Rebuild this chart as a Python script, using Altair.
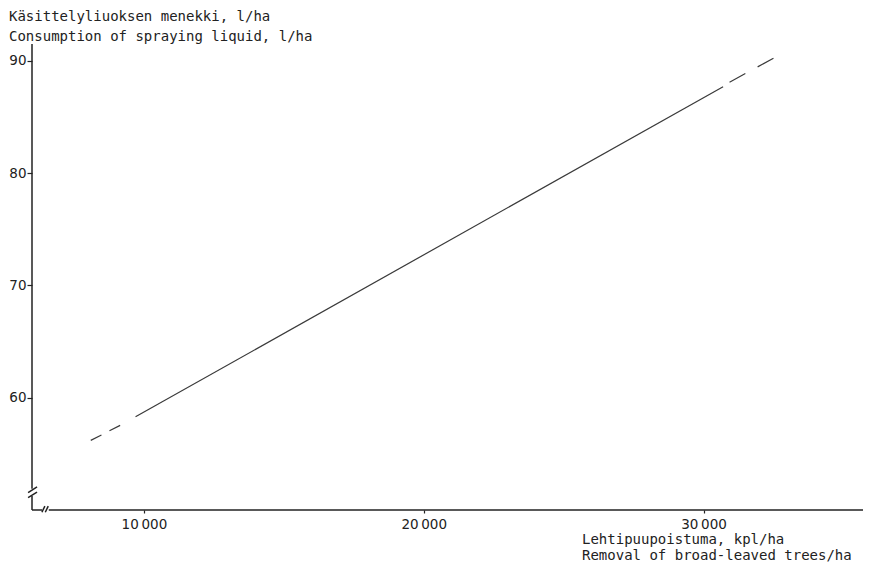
import altair as alt
import pandas as pd

# ---- data ----
line_x_solid = [9700, 30700]
line_y_solid = [58.3, 87.7]
line_x_dash_left = [8100, 9200]
line_y_dash_left = [56.2, 57.6]
line_x_dash_right = [30930, 32700]
line_y_dash_right = [88.1, 90.5]

x_ticks = [10000, 20000, 30000]
y_ticks = [60, 70, 80, 90]

y_title_lines = ["Käsittelyliuoksen menekki, l/ha", "Consumption of spraying liquid, l/ha"]
x_title_lines = ["Lehtipuupoistuma, kpl/ha", "Removal of broad-leaved trees/ha"]

X_DOMAIN = [6000, 35700]
Y_DOMAIN = [50, 91.5]
X_BREAK = 6480
Y_BREAK = 51.6

FONT = "DejaVu Sans"
TFONT = "DejaVu Sans Mono"
INK = "#222222"

W, H = 831, 466

xs = alt.Scale(domain=X_DOMAIN, nice=False, zero=False)
ys = alt.Scale(domain=Y_DOMAIN, nice=False, zero=False)

x_axis = alt.Axis(values=x_ticks, domain=False, grid=False, tickSize=3, tickColor=INK,
                  tickWidth=1.2, labelExpr="floor(datum.value/1000) + '\u2009000'",
                  labelFontSize=13.5, labelColor=INK, labelPadding=4, title=None,
                  labelFont=FONT)
y_axis = alt.Axis(values=y_ticks, domain=False, grid=False, tickSize=5, tickColor=INK,
                  tickWidth=1.2, labelFontSize=13.5, labelColor=INK, labelPadding=1,
                  title=None, labelFont=FONT)


def seg(xv, yv):
    return pd.DataFrame({"x": xv, "y": yv})


def enc(ch):
    return ch.encode(
        x=alt.X("x:Q", scale=xs, axis=x_axis),
        y=alt.Y("y:Q", scale=ys, axis=y_axis),
    )


solid = enc(alt.Chart(seg(line_x_solid, line_y_solid)).mark_line(
    color="#3a3a3a", strokeWidth=1.2))
dash_l = enc(alt.Chart(seg(line_x_dash_left, line_y_dash_left)).mark_line(
    color="#3a3a3a", strokeWidth=1.2, strokeDash=[12, 9]))
dash_r = enc(alt.Chart(seg(line_x_dash_right, line_y_dash_right)).mark_line(
    color="#3a3a3a", strokeWidth=1.2, strokeDash=[18, 14]))

# axis lines with break symbols
x0, x1 = X_DOMAIN
y0, y1 = Y_DOMAIN
axis_df = pd.DataFrame({
    "x":  [x0, x0, x0, X_BREAK + 120, X_BREAK - 125, X_BREAK - 5, x0 - 140, x0 - 140],
    "x2": [x0, x0, X_BREAK - 120, x1, X_BREAK - 20, X_BREAK + 100, x0 + 180, x0 + 180],
    "y":  [Y_BREAK + 0.3, y0, y0, y0, y0 - 0.2, y0 - 0.2, Y_BREAK - 0.05, Y_BREAK - 0.5],
    "y2": [y1, Y_BREAK - 0.35, y0, y0, y0 + 0.35, y0 + 0.35, Y_BREAK + 0.45, Y_BREAK],
})
axes = alt.Chart(axis_df).mark_rule(color=INK, strokeWidth=1.5).encode(
    x=alt.X("x:Q", scale=xs, axis=x_axis),
    x2="x2:Q",
    y=alt.Y("y:Q", scale=ys, axis=y_axis),
    y2="y2:Q",
)

one = pd.DataFrame({"k": [0]})
y_title = alt.Chart(one).mark_text(
    align="left", baseline="alphabetic", fontSize=14, lineHeight=20,
    font=TFONT, color=INK).encode(
    x=alt.value(-23), y=alt.value(-23), text=alt.value(y_title_lines))
x_title = alt.Chart(one).mark_text(
    align="left", baseline="alphabetic", fontSize=14, lineHeight=16,
    font=TFONT, color=INK).encode(
    x=alt.value(550), y=alt.value(H + 34), text=alt.value(x_title_lines))

chart = alt.layer(axes, dash_l, solid, dash_r, y_title, x_title).properties(
    width=W, height=H,
    autosize="none",
    padding={"left": 24, "top": 36, "right": 0, "bottom": 54},
    background="white",
).configure(font=FONT).configure_view(stroke=None)

chart.save("out.html", embed_options={"renderer": "svg", "actions": False})
